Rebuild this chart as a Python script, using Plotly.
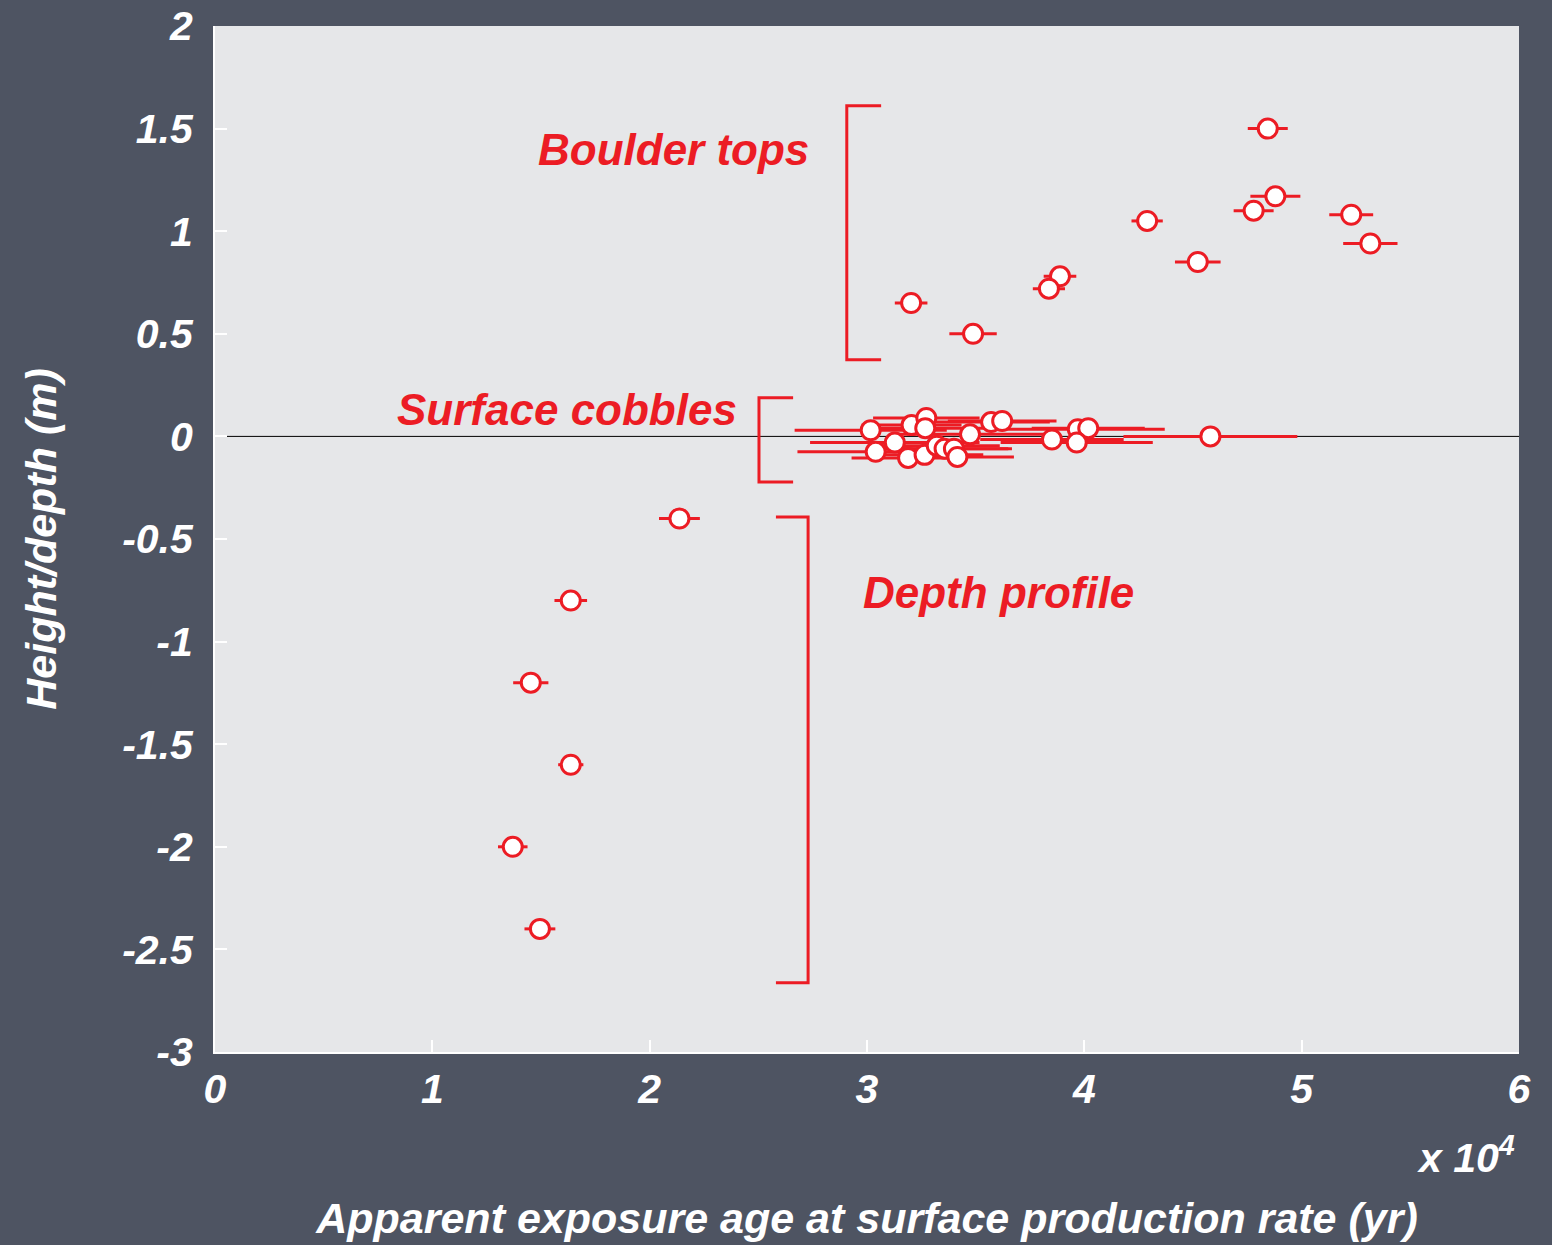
import plotly.graph_objects as go

# ---- data (ages in years, heights in m) ----
boulder_age = [48440, 48790, 47790, 52280, 53160, 42890, 45220, 38880, 38370, 32030, 34880]
boulder_h = [1.50, 1.17, 1.10, 1.08, 0.94, 1.05, 0.85, 0.78, 0.72, 0.65, 0.50]
boulder_err = [920, 1150, 920, 1010, 1250, 720, 1050, 750, 740, 750, 1090]

cobble_age = [30170, 31280, 30400, 31890, 32050, 32730, 32680, 32650, 33210, 33570,
              34000, 34160, 34740, 35710, 36220, 38510, 39700, 40180, 39650, 45800]
cobble_h = [0.03, -0.03, -0.075, -0.105, 0.055, 0.09, 0.04, -0.09, -0.045, -0.06,
            -0.06, -0.10, 0.01, 0.07, 0.075, -0.015, 0.035, 0.04, -0.03, 0.0]
cobble_err = [3500, 3900, 3600, 2600, 2300, 2450, 3000, 2700, 2900, 3100,
              2500, 2600, 3500, 2700, 2500, 3300, 4000, 2600, 3500, 4000]

depth_age = [21370, 16370, 14530, 16370, 13700, 14950]
depth_h = [-0.4, -0.8, -1.2, -1.6, -2.0, -2.4]
depth_err = [940, 750, 810, 580, 680, 710]

x_tickvals = [0, 10000, 20000, 30000, 40000, 50000, 60000]
x_ticktext = ["0", "1", "2", "3", "4", "5", "6"]
y_tickvals = [-3, -2.5, -2, -1.5, -1, -0.5, 0, 0.5, 1, 1.5, 2]
y_ticktext = ["-3", "-2.5", "-2", "-1.5", "-1", "-0.5", "0", "0.5", "1", "1.5", "2"]

group_labels = ["Boulder tops", "Surface cobbles", "Depth profile"]

RED = "#ec1c24"
WHITE = "#ffffff"
BG = "#4e5462"
PLOT_BG = "#e6e7e9"
FONT = "Liberation Sans, Arial, sans-serif"

fig = go.Figure()

# zero reference line across the plot (behind markers)
fig.add_shape(type="line", xref="paper", yref="y", x0=0, x1=1, y0=0, y1=0,
              line=dict(color="#000000", width=1), layer="below")

for ages, hs, errs in [(cobble_age, cobble_h, cobble_err),
                       (depth_age, depth_h, depth_err),
                       (boulder_age, boulder_h, boulder_err)]:
    fig.add_trace(go.Scatter(
        x=ages, y=hs, mode="markers",
        marker=dict(symbol="circle", size=19, color=WHITE,
                    line=dict(color=RED, width=3)),
        error_x=dict(type="data", array=errs, symmetric=True,
                     color=RED, thickness=3, width=0),
        showlegend=False, hoverinfo="x+y",
    ))

# brackets (decorations)
bracket_style = dict(type="path", xref="x", yref="y",
                     line=dict(color=RED, width=3))
fig.add_shape(path="M 30650 1.611 L 29070 1.611 L 29070 0.373 L 30650 0.373", **bracket_style)
fig.add_shape(path="M 26600 0.188 L 25030 0.188 L 25030 -0.222 L 26600 -0.222", **bracket_style)
fig.add_shape(path="M 25810 -0.393 L 27290 -0.393 L 27290 -2.663 L 25810 -2.663", **bracket_style)

label_font = dict(family=FONT, size=44, color=RED, weight="bold", style="italic")
fig.add_annotation(x=21080, y=1.40, text=group_labels[0], showarrow=False,
                   xref="x", yref="y", font=label_font)
fig.add_annotation(x=16200, y=0.13, text=group_labels[1], showarrow=False,
                   xref="x", yref="y", font=label_font)
fig.add_annotation(x=36050, y=-0.76, text=group_labels[2], showarrow=False,
                   xref="x", yref="y", font=label_font)

fig.add_annotation(x=1.0, y=-0.1, xref="paper", yref="paper",
                   xanchor="right", yanchor="middle", xshift=-2,
                   text="x 10<sup>4</sup>", showarrow=False,
                   font=dict(family=FONT, size=41, color=WHITE, weight="bold", style="italic"))

tick_font = dict(family=FONT, size=41, color=WHITE, weight="bold", style="italic")
title_font = dict(family=FONT, size=43, color=WHITE, weight="bold", style="italic")

fig.update_layout(
    width=1552, height=1245,
    margin=dict(l=215, r=33, t=26, b=193),
    paper_bgcolor=BG, plot_bgcolor=PLOT_BG,
    xaxis=dict(range=[0, 60000], tickvals=x_tickvals, ticktext=x_ticktext,
               showgrid=False, zeroline=False, showline=True, linecolor=WHITE,
               linewidth=2, ticks="inside", ticklen=12, tickwidth=2, tickcolor=WHITE,
               tickfont=tick_font, ticklabelstandoff=0, automargin=False,
               title=dict(text="Apparent exposure age at surface production rate (yr)",
                          font=title_font, standoff=92)),
    yaxis=dict(range=[-3, 2], tickvals=y_tickvals, ticktext=y_ticktext,
               showgrid=False, zeroline=False,
               showline=True, linecolor=WHITE, linewidth=2,
               ticks="inside", ticklen=12, tickwidth=2, tickcolor=WHITE,
               tickfont=tick_font, ticklabelstandoff=12, automargin=False,
               title=dict(text="Height/depth (m)", font=title_font, standoff=52)),
)

fig.write_html("out.html")
